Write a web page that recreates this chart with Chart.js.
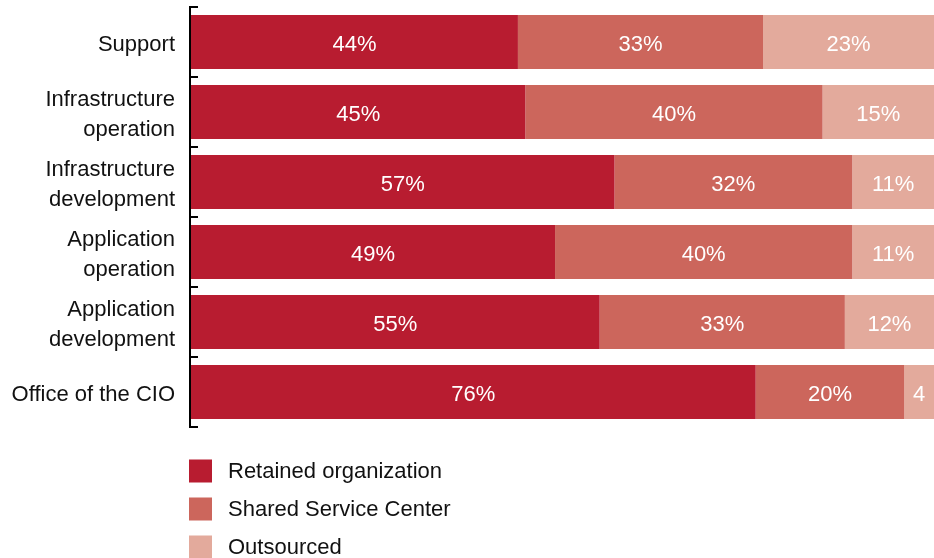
<!DOCTYPE html>
<html>
<head>
<meta charset="utf-8">
<script src="https://cdn.jsdelivr.net/npm/chart.js@4"></script>
<style>
  html, body { margin: 0; padding: 0; background: #fff; }
  #wrap { width: 934px; height: 558px; }
</style>
</head>
<body>
<div id="wrap"><canvas id="sharechart"></canvas></div>
<script>
const categories = [
    'Support',
    ['Infrastructure', 'operation'],
    ['Infrastructure', 'development'],
    ['Application', 'operation'],
    ['Application', 'development'],
    'Office of the CIO'
];
const retained = [44, 45, 57, 49, 55, 76];
const shared = [33, 40, 32, 40, 33, 20];
const outsourced = [23, 15, 11, 11, 12, 4];

const FONT = '"Liberation Sans", Arial, sans-serif';

// white value labels centred in each segment
const valueLabels = {
    id: 'valueLabels',
    afterDatasetsDraw(chart) {
        const ctx = chart.ctx;
        ctx.save();
        ctx.font = '22px ' + FONT;
        ctx.fillStyle = '#ffffff';
        ctx.textAlign = 'center';
        ctx.textBaseline = 'middle';
        chart.data.datasets.forEach((ds, i) => {
            chart.getDatasetMeta(i).data.forEach((bar, j) => {
                const w = Math.abs(bar.x - bar.base);
                let txt = ds.data[j] + '%';
                if (ctx.measureText(txt).width > w - 4) txt = String(ds.data[j]);
                ctx.fillText(txt, (bar.x + bar.base) / 2, bar.y + 3);
            });
        });
        ctx.restore();
    }
};

// axis line with inward ticks at category boundaries
const axisTicks = {
    id: 'axisTicks',
    afterDraw(chart) {
        const ctx = chart.ctx;
        const y = chart.scales.y;
        const left = chart.chartArea.left;
        ctx.save();
        ctx.strokeStyle = '#000';
        ctx.lineWidth = 2;
        ctx.beginPath();
        ctx.moveTo(left - 1, chart.chartArea.top);
        ctx.lineTo(left - 1, chart.chartArea.bottom);
        for (let k = 0; k <= categories.length; k++) {
            const py = y.getPixelForValue(k - 0.5);
            ctx.moveTo(left - 2, py);
            ctx.lineTo(left + 7, py);
        }
        ctx.stroke();
        ctx.restore();
    }
};

// vertical legend under the plot
const listLegend = {
    id: 'listLegend',
    afterDraw(chart) {
        const ctx = chart.ctx;
        const x0 = chart.chartArea.left - 2;
        let yc = chart.chartArea.bottom + 44;
        ctx.save();
        ctx.font = '22px ' + FONT;
        ctx.textBaseline = 'middle';
        chart.data.datasets.forEach(ds => {
            ctx.fillStyle = ds.backgroundColor;
            ctx.fillRect(x0, yc - 11.5, 23, 23);
            ctx.fillStyle = '#111';
            ctx.fillText(ds.label, x0 + 39, yc + 1);
            yc += 38;
        });
        ctx.restore();
    }
};

const ctx1 = document.getElementById('sharechart').getContext('2d');
const sharechart = new Chart(ctx1, {
    type: 'bar',
    data: {
        labels: categories,
        datasets: [
            { label: 'Retained organization', data: retained, backgroundColor: '#b81c30' },
            { label: 'Shared Service Center', data: shared, backgroundColor: '#cc665c' },
            { label: 'Outsourced', data: outsourced, backgroundColor: '#e3aa9c' }
        ]
    },
    options: {
        indexAxis: 'y',
        responsive: true,
        maintainAspectRatio: false,
        animation: false,
        layout: { padding: { top: 7, bottom: 131, right: 0, left: 0 } },
        datasets: { bar: { categoryPercentage: 1, barPercentage: 0.77 } },
        plugins: { legend: { display: false }, tooltip: { enabled: false } },
        scales: {
            x: { stacked: true, min: 0, max: 100, display: false },
            y: {
                stacked: true,
                grid: { display: false, drawTicks: false },
                border: { display: false },
                ticks: {
                    color: '#111',
                    padding: 16,
                    labelOffset: 3,
                    font: { family: FONT, size: 22, lineHeight: 1.36 }
                },
                afterFit(scale) {
                    scale.width = 191;
                    scale.paddingTop = 0;
                    scale.paddingBottom = 0;
                }
            }
        }
    },
    plugins: [valueLabels, axisTicks, listLegend]
});
</script>
</body>
</html>
